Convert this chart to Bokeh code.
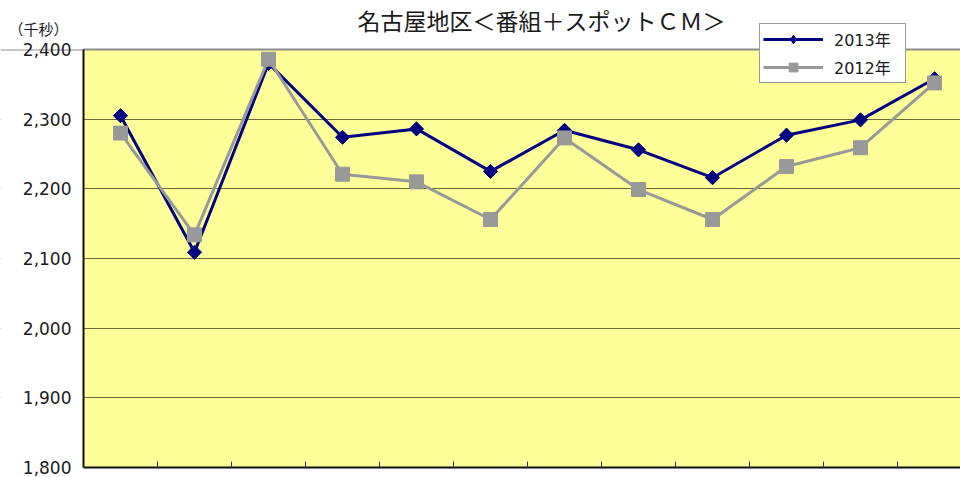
from bokeh.plotting import figure
from bokeh.models import (Range1d, FixedTicker, NumeralTickFormatter, Label,
                          Legend, LegendItem, Span, BoxAnnotation, ColumnDataSource)
from bokeh.embed import file_html
from bokeh.resources import INLINE

# ---- data ----
months = ["4月", "5月", "6月", "7月", "8月", "9月",
          "10月", "11月", "12月", "1月", "2月", "3月"]
y2013 = [2305, 2109, 2380, 2274, 2286, 2225, 2284, 2256, 2216, 2277, 2299, 2358]
y2012 = [2280, 2134, 2386, 2221, 2210, 2156, 2273, 2199, 2156, 2232, 2259, 2352]
yticks = [1800, 1900, 2000, 2100, 2200, 2300, 2400]
series_names = ["2013年", "2012年"]
title_text = "名古屋地区＜番組＋スポットＣＭ＞"
unit_text = "（千秒）"

FONT = "Noto Sans CJK JP"
NUMFONT = "DejaVu Sans, Noto Sans CJK JP"

# ---- layout geometry (pixels) ----
W, H = 960, 477
AREA_L, AREA_T, AREA_B = 83, 49, 467     # plot-area edges on the page
CAT_W = 74                               # pixels per category
ymin, ymax = yticks[0], yticks[-1]
PX_Y = (AREA_B - AREA_T) / (ymax - ymin)

n = len(months)
xs = [i + 0.5 for i in range(n)]
src = ColumnDataSource(dict(x=xs, m=months, y13=y2013, y12=y2012))

x_start = -AREA_L / CAT_W
x_end = (W - AREA_L) / CAT_W
y_start = ymin - (H - AREA_B) / PX_Y
y_end = ymin + AREA_B / PX_Y

p = figure(frame_width=W, frame_height=H,
           min_border_left=0, min_border_right=0,
           min_border_top=0, min_border_bottom=0,
           x_range=Range1d(x_start, x_end), y_range=Range1d(y_start, y_end),
           output_backend="svg", toolbar_location=None)
p.background_fill_color = "white"
p.border_fill_color = "white"
p.outline_line_color = None

# plot area background
p.add_layout(BoxAnnotation(left=0, right=x_end + 1, bottom=ymin, top=ymax,
                           fill_color="#FFFF99", fill_alpha=1, line_color=None,
                           level="image"))

# grid
p.xgrid.grid_line_color = None
p.ygrid.ticker = FixedTicker(ticks=yticks[1:-1])
p.ygrid.grid_line_color = "#6b6b3a"
p.ygrid.grid_line_width = 1
p.ygrid.level = "underlay"
# mask the grid to the left of the plot area
p.add_layout(BoxAnnotation(right=0, fill_color="white", fill_alpha=1,
                           line_color=None, level="underlay"))
# top border of plot area
p.add_layout(Span(location=ymax, dimension="width", line_color="#8c8c8c",
                  line_width=2, level="underlay"))
p.add_layout(BoxAnnotation(right=0, bottom=ymax, fill_color="white", fill_alpha=1,
                           line_color=None, level="underlay"))

# y axis, placed at the plot-area edge
p.yaxis.fixed_location = 0
p.yaxis.bounds = (ymin, ymax)
p.yaxis.ticker = FixedTicker(ticks=yticks)
p.yaxis.formatter = NumeralTickFormatter(format="0,0")
p.yaxis.major_label_text_font = NUMFONT
p.yaxis.major_label_text_font_size = "17px"
p.yaxis.major_label_text_color = "#1a1a1a"
p.yaxis.major_tick_in = 0
p.yaxis.major_tick_out = 0
p.yaxis.minor_tick_line_color = None
p.yaxis.major_label_standoff = 12
p.yaxis.axis_line_color = "#111111"
p.yaxis.axis_line_width = 2

# x axis: only category-boundary ticks (the labels lie outside the picture)
p.xaxis.fixed_location = ymin
p.xaxis.bounds = (0, n)
p.xaxis.ticker = FixedTicker(ticks=[], minor_ticks=list(range(1, n)))
p.xaxis.major_tick_line_color = None
p.xaxis.minor_tick_in = 6
p.xaxis.minor_tick_out = 0
p.xaxis.minor_tick_line_color = "#333333"
p.xaxis.minor_tick_line_width = 1
p.xaxis.axis_line_color = "#111111"
p.xaxis.axis_line_width = 2

# series (small legend-size markers first, hidden under the chart markers)
l13 = p.line("x", "y13", source=src, line_color="#000080", line_width=3)
k13 = p.scatter("x", "y13", source=src, marker="diamond", size=12,
                fill_color="#000080", line_color="#000080")
s13 = p.scatter("x", "y13", source=src, marker="square", angle=0.7853981634, size=10,
                fill_color="#000080", line_color="#000080")
l12 = p.line("x", "y12", source=src, line_color="#999999", line_width=3)
k12 = p.scatter("x", "y12", source=src, marker="square", size=9,
                fill_color="#999999", line_color="#999999")
s12 = p.scatter("x", "y12", source=src, marker="square", size=14,
                fill_color="#999999", line_color="#999999")

legend = Legend(items=[LegendItem(label=series_names[0], renderers=[l13, k13]),
                       LegendItem(label=series_names[1], renderers=[l12, k12])],
                location=(759, H - 83))
legend.label_text_font = NUMFONT
legend.label_text_font_size = "16px"
legend.label_text_color = "#1a1a1a"
legend.glyph_width = 60
legend.glyph_height = 22
legend.label_height = 22
legend.label_width = 68
legend.spacing = 4
legend.padding = 3
legend.margin = 0
legend.label_standoff = 11
legend.border_line_color = "#333333"
legend.border_line_width = 1
legend.background_fill_color = "white"
legend.background_fill_alpha = 1
p.add_layout(legend, "center")

# title and unit label
p.add_layout(Label(x=(541 - AREA_L) / CAT_W, y=ymax + (AREA_T - 19) / PX_Y, text=title_text,
                   text_font=FONT, text_font_size="23px", text_color="#1a1a1a",
                   text_align="center", text_baseline="middle"))
p.add_layout(Label(x=(8 - AREA_L) / CAT_W, y=ymax + (AREA_T - 28) / PX_Y, text=unit_text,
                   text_font=FONT, text_font_size="15px", text_color="#1a1a1a",
                   text_align="left", text_baseline="middle"))

open("out.html", "w").write(file_html(p, INLINE))
